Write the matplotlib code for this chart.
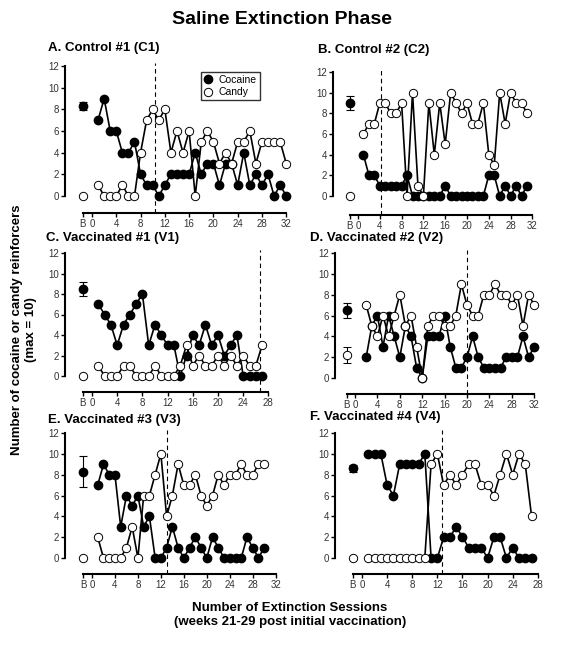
import matplotlib
matplotlib.use('Agg')
import matplotlib.pyplot as plt
from matplotlib.lines import Line2D

plt.rcParams['font.family'] = ['Liberation Sans', 'DejaVu Sans']

# session values (reinforcers earned)
A_coc = [7, 9, 6, 6, 4, 4, 5, 2, 1, 1, 0, 1, 2, 2, 2, 2, 4, 2, 3, 3, 1, 3, 3, 1, 4, 1, 2, 1, 2, 0, 1, 0]
A_candy = [1, 0, 0, 0, 1, 0, 0, 4, 7, 8, 7, 8, 4, 6, 4, 6, 0, 5, 6, 5, 3, 4, 3, 5, 5, 6, 3, 5, 5, 5, 5, 3]
B_coc = [4, 2, 2, 1, 1, 1, 1, 1, 2, 0, 0, 0, 0, 0, 0, 1, 0, 0, 0, 0, 0, 0, 0, 2, 2, 0, 1, 0, 1, 0, 1]
B_candy = [6, 7, 7, 9, 9, 8, 8, 9, 0, 10, 1, 0, 9, 4, 9, 5, 10, 9, 8, 9, 7, 7, 9, 4, 3, 10, 7, 10, 9, 9, 8]
C_coc = [7, 6, 5, 3, 5, 6, 7, 8, 3, 5, 4, 3, 3, 0, 2, 4, 3, 5, 3, 4, 2, 3, 4, 0, 0, 0, 0]
C_candy = [1, 0, 0, 0, 1, 1, 0, 0, 0, 1, 0, 0, 0, 1, 3, 1, 2, 1, 1, 2, 1, 2, 1, 2, 1, 1, 3]
D_coc = [2, 5, 6, 3, 6, 4, 2, 5, 4, 1, 0, 4, 4, 4, 6, 3, 1, 1, 2, 4, 2, 1, 1, 1, 1, 2, 2, 2, 4, 2, 3]
D_candy = [7, 5, 4, 6, 4, 6, 8, 5, 6, 3, 0, 5, 6, 6, 5, 5, 6, 9, 7, 6, 6, 8, 8, 9, 8, 8, 7, 8, 5, 8, 7]
E_coc = [7, 9, 8, 8, 3, 6, 5, 6, 3, 4, 0, 0, 1, 3, 1, 0, 1, 2, 1, 0, 2, 1, 0, 0, 0, 0, 2, 1, 0, 1]
E_candy = [2, 0, 0, 0, 0, 1, 3, 0, 6, 6, 8, 10, 4, 6, 9, 7, 7, 8, 6, 5, 6, 8, 7, 8, 8, 9, 8, 8, 9, 9]
F_coc = [10, 10, 10, 7, 6, 9, 9, 9, 9, 10, 0, 0, 2, 2, 3, 2, 1, 1, 1, 0, 2, 2, 0, 1, 0, 0, 0]
F_candy = [0, 0, 0, 0, 0, 0, 0, 0, 0, 0, 9, 10, 7, 8, 7, 8, 9, 9, 7, 7, 6, 8, 10, 8, 10, 9, 4]

# first session number of each series
first_session = {'A': 1, 'B': 1, 'C': 1, 'D': 2, 'E': 1, 'F': 1}
# baseline (B) mean and error
base_coc = {'A': (8.3, 0.4), 'B': (9.0, 0.7), 'C': (8.5, 0.7), 'D': (6.5, 0.7), 'E': (8.3, 1.45), 'F': (8.6, 0.3)}
base_candy = {'A': (0, 0), 'B': (0, 0), 'C': (0, 0), 'D': (2.2, 0.8), 'E': (0, 0), 'F': (0, 0)}
# session where saline extinction criterion was met (dashed line)
crit = {'A': 10.3, 'B': 4.2, 'C': 26.6, 'D': 20, 'E': 13, 'F': 12.8}
titles = {'A': 'A. Control #1 (C1)', 'B': 'B. Control #2 (C2)',
          'C': 'C. Vaccinated #1 (V1)', 'D': 'D. Vaccinated #2 (V2)',
          'E': 'E. Vaccinated #3 (V3)', 'F': 'F. Vaccinated #4 (V4)'}
series = {'A': (A_coc, A_candy), 'B': (B_coc, B_candy), 'C': (C_coc, C_candy),
          'D': (D_coc, D_candy), 'E': (E_coc, E_candy), 'F': (F_coc, F_candy)}
xmax = {'A': 32, 'B': 32, 'C': 28, 'D': 32, 'E': 32, 'F': 28}

W, H = 564, 646
# pixel layout: y-axis x, x of session 0, px per session, y of 0, y of 12, x-axis y, title pos
layout = {
    'A': (65, 92, 6.07, 196, 66, 213, 48, 48),
    'B': (333, 358, 5.45, 196, 72, 215, 318, 50),
    'C': (65, 92, 6.3, 376, 253, 392, 46, 238),
    'D': (335, 355, 5.6, 378, 253, 394, 310, 238),
    'E': (65, 92, 5.74, 558, 433, 574, 48, 420),
    'F': (335, 362, 6.28, 558, 433, 574, 310, 417),
}

fig = plt.figure(figsize=(W / 100, H / 100), dpi=100)

for key in 'ABCDEF':
    yax, x0, xs, y0, y12, xax, tx, ty = layout[key]
    ys = (y0 - y12) / 12.0
    xl = (yax - x0) / xs
    xr = xmax[key] + 1.5
    right = x0 + xr * xs
    yb = -(xax - y0) / ys
    yt = 12.6
    top = y0 - yt * ys
    ax = fig.add_axes([yax / W, 1 - xax / H, (right - yax) / W, (xax - top) / H])
    ax.set_xlim(xl, xr)
    ax.set_ylim(yb, yt)

    coc, candy = series[key]
    s0 = first_session[key]
    x = list(range(s0, s0 + len(coc)))

    ax.axvline(crit[key], ymin=0, ymax=0.98, color='k', ls=(0, (4, 3)), lw=0.8)
    ax.plot(x, coc, '-o', color='k', mfc='k', mec='k', ms=6, lw=1.2, clip_on=False, zorder=3)
    ax.plot(x, candy, '-o', color='k', mfc='white', mec='k', ms=6, mew=0.7, lw=1.2,
            clip_on=False, zorder=4)
    m, e = base_coc[key]
    ax.errorbar(-1.5, m, yerr=e, fmt='o', color='k', mfc='k', ms=6, capsize=3,
                elinewidth=0.8, capthick=0.8, clip_on=False, zorder=3)
    m, e = base_candy[key]
    ax.errorbar(-1.5, m, yerr=e if e else None, fmt='o', color='k', mfc='white', mec='k',
                ms=6, mew=0.7, capsize=3, elinewidth=0.8, capthick=0.8,
                clip_on=False, zorder=4)

    for s in ['top', 'right']:
        ax.spines[s].set_visible(False)
    ax.spines['left'].set_bounds(0, 12)
    ax.spines['bottom'].set_bounds(-1.5, xmax[key])
    ax.spines['left'].set_linewidth(1.5)
    ax.spines['bottom'].set_linewidth(1.5)
    ax.set_yticks(range(0, 13, 2))
    xt = [-1.5] + list(range(0, xmax[key] + 1, 4))
    ax.set_xticks(xt)
    ax.set_xticklabels(['B'] + [str(v) for v in xt[1:]])
    ax.tick_params(labelsize=7, length=3, width=1, pad=1.5, labelcolor='#333333')

    fig.text(tx / W, 1 - ty / H, titles[key], fontsize=9.5, fontweight='bold', va='center')

    if key == 'A':
        handles = [Line2D([], [], marker='o', ls='none', color='k', mfc='k', ms=6),
                   Line2D([], [], marker='o', ls='none', color='k', mfc='white', mew=0.7, ms=6)]
        leg = ax.legend(handles, ['Cocaine', 'Candy'], loc='upper left',
                        bbox_to_anchor=(201 / W, 1 - 72 / H), bbox_transform=fig.transFigure,
                        fontsize=7.5, frameon=True, fancybox=False, handlelength=0.8,
                        handletextpad=0.6, borderpad=0.3, labelspacing=0.2, borderaxespad=0)
        leg.get_frame().set_edgecolor('k')
        leg.get_frame().set_linewidth(1.0)

fig.text(282 / W, 1 - 20 / H, 'Saline Extinction Phase', fontsize=14, fontweight='bold',
         ha='center', va='center')
fig.text(24 / W, 1 - 330 / H, 'Number of cocaine or candy reinforcers\n(max = 10)',
         fontsize=9.5, fontweight='bold', rotation=90, ha='center', va='center',
         multialignment='center')
fig.text(290 / W, 1 - 615 / H, 'Number of Extinction Sessions\n(weeks 21-29 post initial vaccination)',
         fontsize=9.5, fontweight='bold', ha='center', va='center', multialignment='center')

fig.savefig('out.png', dpi=100)
